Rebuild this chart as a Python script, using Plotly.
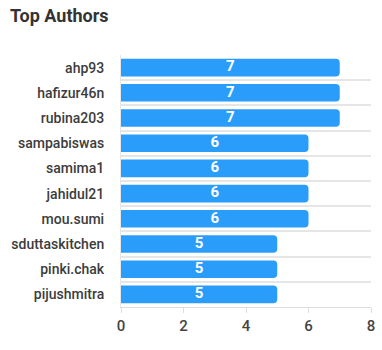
import plotly.graph_objects as go

authors = ["ahp93", "hafizur46n", "rubina203", "sampabiswas", "samima1",
           "jahidul21", "mou.sumi", "sduttaskitchen", "pinki.chak", "pijushmitra"]
counts = [7, 7, 7, 6, 6, 6, 6, 5, 5, 5]
x_ticks = [0, 2, 4, 6, 8]

pos = list(range(len(authors)))
bounds = [p - 0.5 for p in pos] + [pos[-1] + 0.5]

fig = go.Figure()
fig.add_trace(go.Bar(
    x=counts, y=pos, orientation="h",
    marker=dict(color="#2A9DFB", cornerradius=4, line=dict(width=0)),
    width=0.7,
    hoverinfo="skip",
))
fig.add_trace(go.Scatter(
    x=[c / 2 for c in counts], y=pos, mode="text",
    text=[str(c) for c in counts], textposition="middle center",
    textfont=dict(family="Roboto", size=15, color="white", weight="bold"),
    hoverinfo="skip",
))

fig.update_layout(
    width=382, height=350,
    margin=dict(l=121, r=7, t=55, b=43),
    paper_bgcolor="white", plot_bgcolor="white",
    font=dict(family="Roboto", color="#333"),
    title=dict(text="<b>Top Authors</b>", x=0.026, xanchor="left", y=0.955, yanchor="middle",
               font=dict(family="Roboto", size=18, color="#333")),
    showlegend=False,
)
fig.update_xaxes(
    range=[0, 8], tickvals=x_ticks, showgrid=False, zeroline=False,
    showline=True, linecolor="#ddd", linewidth=1,
    ticks="outside", ticklen=5, tickcolor="#ddd",
    tickfont=dict(family="Roboto", size=15, color="#444", weight=500),
)
fig.update_yaxes(
    range=[pos[-1] + 0.5, -0.5], tickvals=pos, ticktext=authors,
    showgrid=False, zeroline=False,
    showline=True, linecolor="#e6e6e6", linewidth=1,
    ticks="", ticklabelstandoff=13,
    tickfont=dict(family="Roboto", size=14, color="#3c3c3c", weight=500),
    minor=dict(tickvals=bounds, showgrid=True, gridcolor="#e6e6e6", gridwidth=1.5),
)

fig.write_html("out.html")
